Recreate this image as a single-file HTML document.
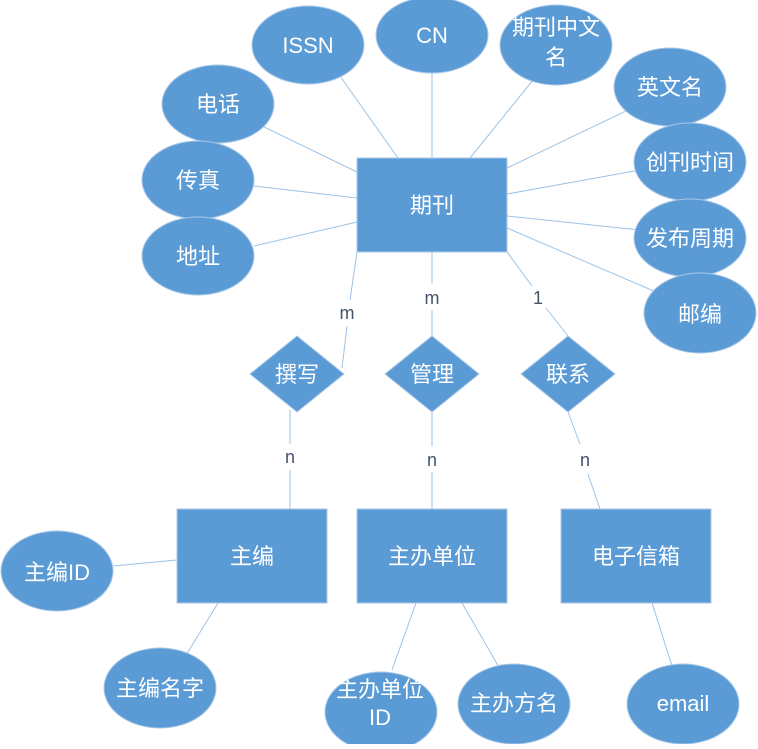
<!DOCTYPE html>
<html><head><meta charset="utf-8"><style>html,body{margin:0;padding:0;background:#fff}</style></head>
<body>
<svg width="758" height="744" viewBox="0 0 758 744" xmlns="http://www.w3.org/2000/svg" font-family="Liberation Sans, Noto Sans CJK SC, sans-serif">
<g stroke="#9dc3e6" stroke-width="1">
<line x1="340" y1="76" x2="398" y2="158"/>
<line x1="432" y1="72" x2="432" y2="158"/>
<line x1="533" y1="80" x2="470" y2="158"/>
<line x1="628" y1="110" x2="507" y2="168"/>
<line x1="640" y1="170" x2="507" y2="194"/>
<line x1="640" y1="230" x2="507" y2="216"/>
<line x1="656" y1="292" x2="507" y2="228"/>
<line x1="262" y1="126" x2="357" y2="172"/>
<line x1="254" y1="186" x2="357" y2="198"/>
<line x1="254" y1="246" x2="357" y2="222"/>
<line x1="357" y1="252" x2="350" y2="300"/><line x1="347" y1="326" x2="342" y2="368"/>
<line x1="432" y1="252" x2="432" y2="284"/><line x1="432" y1="310" x2="432" y2="336"/>
<line x1="507" y1="252" x2="532" y2="286"/><line x1="546" y1="308" x2="568" y2="336"/>
<line x1="290" y1="410" x2="290" y2="444"/><line x1="290" y1="470" x2="290" y2="509"/>
<line x1="432" y1="412" x2="432" y2="446"/><line x1="432" y1="472" x2="432" y2="509"/>
<line x1="568" y1="412" x2="580" y2="444"/><line x1="588" y1="474" x2="600" y2="509"/>
<line x1="113" y1="566" x2="177" y2="560"/>
<line x1="183" y1="660" x2="218" y2="603"/>
<line x1="392" y1="670" x2="416" y2="603"/>
<line x1="500" y1="669" x2="462" y2="603"/>
<line x1="673" y1="669" x2="652" y2="603"/>
</g>
<g fill="#5b9bd5" stroke="#a9c8e8" stroke-width="1">
<rect x="357" y="158" width="150" height="94"/>
<rect x="177" y="509" width="150" height="94"/>
<rect x="357" y="509" width="150" height="94"/>
<rect x="561" y="509" width="150" height="94"/>
<ellipse cx="308" cy="45" rx="56" ry="39"/>
<ellipse cx="432" cy="35" rx="56" ry="38"/>
<ellipse cx="556" cy="45" rx="56" ry="40"/>
<ellipse cx="670" cy="87" rx="56" ry="39"/>
<ellipse cx="690" cy="162" rx="56" ry="39"/>
<ellipse cx="690" cy="238" rx="56" ry="39"/>
<ellipse cx="700" cy="313" rx="56" ry="40"/>
<ellipse cx="218" cy="104" rx="56" ry="39"/>
<ellipse cx="198" cy="180" rx="56" ry="39"/>
<ellipse cx="198" cy="256" rx="56" ry="39"/>
<ellipse cx="57" cy="571" rx="56" ry="40"/>
<ellipse cx="160" cy="688" rx="56" ry="40"/>
<ellipse cx="381" cy="712" rx="56" ry="40"/>
<ellipse cx="514" cy="704" rx="56" ry="40"/>
<ellipse cx="683" cy="704" rx="56" ry="40"/>
<polygon points="297,336 344,374 297,412 250,374"/>
<polygon points="432,336 479,374 432,412 385,374"/>
<polygon points="568,336 615,374 568,412 521,374"/>
</g>
<g fill="#fff" font-size="22" text-anchor="middle">
<text x="432" y="213">期刊</text>
<text x="252" y="564">主编</text>
<text x="432" y="564">主办单位</text>
<text x="636" y="564">电子信箱</text>
<text x="308" y="53">ISSN</text>
<text x="432" y="43">CN</text>
<text x="556" y="35">期刊中文</text>
<text x="556" y="65">名</text>
<text x="670" y="95">英文名</text>
<text x="690" y="170">创刊时间</text>
<text x="690" y="246">发布周期</text>
<text x="700" y="322">邮编</text>
<text x="218" y="112">电话</text>
<text x="198" y="188">传真</text>
<text x="198" y="264">地址</text>
<text x="57" y="580">主编ID</text>
<text x="160" y="696">主编名字</text>
<text x="380" y="697">主办单位</text>
<text x="380" y="725">ID</text>
<text x="514" y="711">主办方名</text>
<text x="683" y="711">email</text>
<text x="297" y="382">撰写</text>
<text x="432" y="382">管理</text>
<text x="568" y="382">联系</text>
</g>
<g fill="#44546a" font-size="18" text-anchor="middle">
<text x="347" y="319">m</text>
<text x="432" y="304">m</text>
<text x="538" y="304">1</text>
<text x="290" y="463">n</text>
<text x="432" y="466">n</text>
<text x="585" y="466">n</text>
</g>
</svg>
</body></html>
